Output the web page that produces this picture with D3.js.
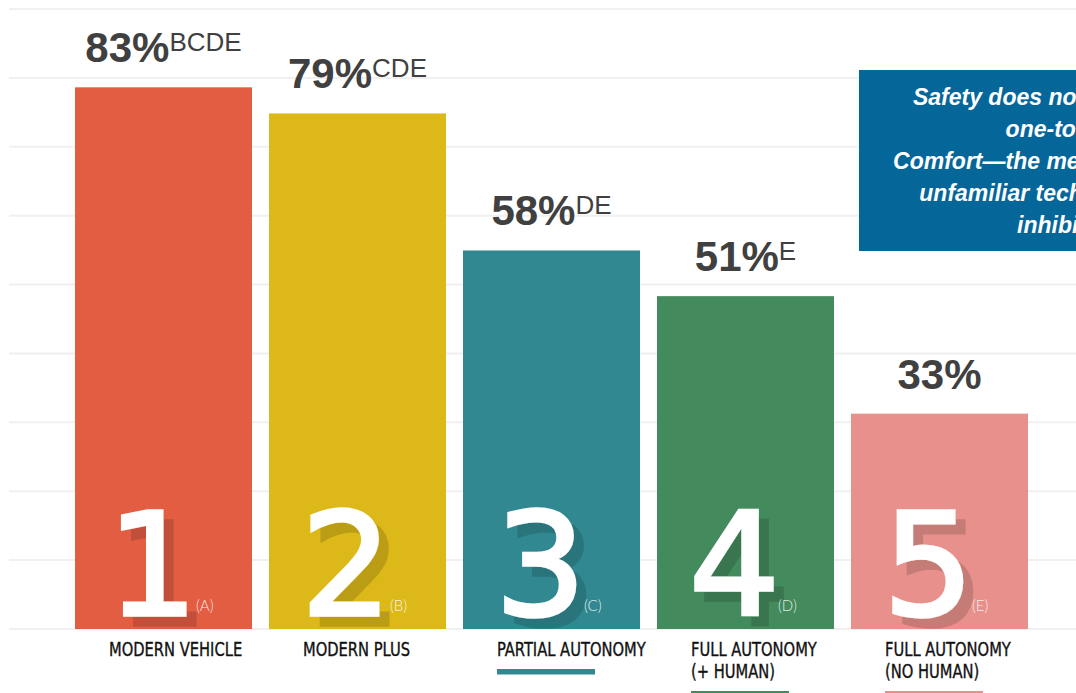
<!DOCTYPE html>
<html>
<head>
<meta charset="utf-8">
<script src="https://cdn.jsdelivr.net/npm/d3@7"></script>
<style>
  html, body { margin: 0; padding: 0; background: #ffffff; overflow: hidden; }
  svg { display: block; }
</style>
</head>
<body>
<svg id="chart" width="1076" height="693"></svg>
<script>
// ---- data ----
const categories = ["Modern Vehicle", "Modern Plus", "Partial Autonomy", "Full Autonomy (+ Human)", "Full Autonomy (No Human)"];
const values = [83, 79, 58, 51, 33];
const significance = ["BCDE", "CDE", "DE", "E", ""];
const numerals = ["1", "2", "3", "4", "5"];
const letters = ["(A)", "(B)", "(C)", "(D)", "(E)"];
const labelLines = [["MODERN VEHICLE"], ["MODERN PLUS"], ["PARTIAL AUTONOMY"], ["FULL AUTONOMY", "(+ HUMAN)"], ["FULL AUTONOMY", "(NO HUMAN)"]];
const underlined = [false, false, true, true, true];
const colors = ["#E35D43", "#DCB919", "#318891", "#438A5C", "#E8908B"];
const calloutLines = ["Safety does not correspond", "one-to-one", "Comfort\u2014the mere presence of", "unfamiliar technology may", "inhibit it."];

// ---- layout ----
const svg = d3.select("#chart");
const baseY = 629, topY = 9;
const x = d3.scaleBand().domain(d3.range(values.length))
  .range([66.5, 1036.5]).paddingInner(0.0876).paddingOuter(0.0438);
const y = d3.scaleLinear().domain([0, 95]).range([baseY, topY]);
const grid = d3.scaleLinear().domain([0, 9]).range([baseY, topY]);

// drop shadow filter for numerals
const defs = svg.append("defs");
const f = defs.append("filter").attr("id", "numShadow")
  .attr("x", "-20%").attr("y", "-20%").attr("width", "150%").attr("height", "150%");
f.append("feOffset").attr("in", "SourceAlpha").attr("dx", 10).attr("dy", 10).attr("result", "off");
f.append("feFlood").attr("flood-color", "#000").attr("flood-opacity", 0.15).attr("result", "fl");
f.append("feComposite").attr("in", "fl").attr("in2", "off").attr("operator", "in").attr("result", "sh");
const m = f.append("feMerge");
m.append("feMergeNode").attr("in", "sh");
m.append("feMergeNode").attr("in", "SourceGraphic");

// gridlines
svg.append("g").selectAll("line").data(d3.range(10)).join("line")
  .attr("x1", 9).attr("x2", 1076)
  .attr("y1", d => grid(d)).attr("y2", d => grid(d))
  .attr("stroke", "#f0f0f0").attr("stroke-width", 2);

// callout box
const box = svg.append("g");
box.append("rect").attr("x", 859).attr("y", 70).attr("width", 420).attr("height", 181).attr("fill", "#05669A");
box.append("text")
  .attr("text-anchor", "middle")
  .attr("font-family", "'Liberation Sans', Arial, sans-serif")
  .attr("font-weight", "bold").attr("font-style", "italic")
  .attr("font-size", 23).attr("fill", "#ffffff")
  .selectAll("tspan").data(calloutLines).join("tspan")
  .attr("x", 1065).attr("y", (d, i) => 105 + i * 32)
  .text(d => d);

// bars
const g = svg.append("g").selectAll("g").data(values).join("g");
g.append("rect")
  .attr("x", (d, i) => x(i)).attr("width", x.bandwidth())
  .attr("y", d => y(d)).attr("height", d => baseY - y(d))
  .attr("fill", (d, i) => colors[i]);

// big numerals with shadow
const nums = g.append("text")
  .attr("x", (d, i) => x(i) + 32).attr("y", 615)
  .attr("font-family", "'DejaVu Sans', sans-serif").attr("font-size", 143)
  .attr("fill", "#ffffff").attr("stroke", "#ffffff").attr("stroke-width", 3.5)
  .attr("stroke-linejoin", "miter")
  .attr("filter", "url(#numShadow)")
  .text((d, i) => numerals[i]);

// small letters
g.append("text")
  .attr("x", (d, i) => x(i) + 32 + nums.nodes()[i].getComputedTextLength() - 2)
  .attr("y", 611)
  .attr("font-family", "Lato, 'Open Sans', sans-serif").attr("font-weight", 300)
  .attr("font-size", 15).attr("fill", "#ffffff").attr("fill-opacity", 0.85)
  .text((d, i) => letters[i]);

// value labels
const vl = g.append("text")
  .attr("text-anchor", "middle")
  .attr("x", (d, i) => x(i) + x.bandwidth() / 2)
  .attr("y", d => y(d) - 25)
  .attr("font-family", "'Liberation Sans', Arial, sans-serif")
  .attr("fill", "#404040");
vl.append("tspan").attr("font-weight", "bold").attr("font-size", 42).text(d => d + "%");
vl.append("tspan").attr("font-size", 26).attr("dy", -11).text((d, i) => significance[i]);

// category labels (condensed)
const lab = g.append("text")
  .attr("font-family", "'Liberation Sans Narrow', 'DejaVu Sans Condensed', sans-serif")
  .attr("font-size", 19).attr("fill", "#111111")
  .attr("stroke", "#111111").attr("stroke-width", 0.35);
lab.selectAll("tspan").data((d, i) => labelLines[i].map(t => ({t, i}))).join("tspan")
  .attr("x", d => x(d.i) + 34).attr("y", (d, j) => 656 + j * 22)
  .text(d => d.t)
  .each(function() {
    const w = this.getComputedTextLength();
    d3.select(this).attr("textLength", w * 0.86).attr("lengthAdjust", "spacingAndGlyphs");
  });

// underline swatches
g.filter((d, i) => underlined[i]).append("rect")
  .attr("x", d => x(values.indexOf(d)) + 34)
  .attr("y", d => 669 + (labelLines[values.indexOf(d)].length - 1) * 22)
  .attr("width", 98).attr("height", 5.5)
  .attr("fill", d => colors[values.indexOf(d)]);
</script>
</body>
</html>
